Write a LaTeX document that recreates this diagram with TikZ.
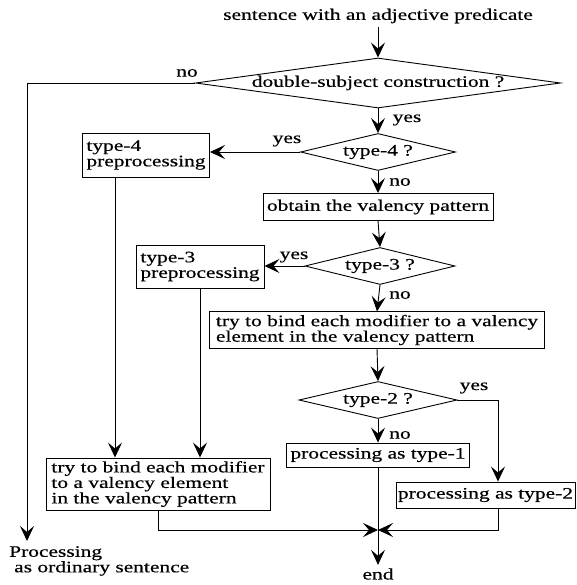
\documentclass[tikz,border=0pt]{standalone}
\usepackage{fontspec}
\setmainfont{Liberation Serif}[FakeStretch=1.34,FakeBold=0.5]
\usetikzlibrary{arrows.meta,shapes.geometric}

\tikzset{
  every node/.style={font=\fontsize{16}{15.5}\selectfont},
  box/.style={draw, line width=0.9pt, inner xsep=4pt, inner ysep=3pt, align=left},
  test/.style={draw, diamond, line width=0.9pt, inner sep=0pt},
  flow/.style={line width=0.9pt},
  arr/.style={flow, -{Stealth[length=15pt,width=14pt,inset=6pt]}},
  tag/.style={inner sep=1pt},
}

\begin{document}
\begin{tikzpicture}[x=1pt,y=-1pt]
\useasboundingbox (0,0) rectangle (576,585);

% main column
\node (title) at (378,16) {sentence with an adjective predicate};
\node[test, minimum width=365pt, minimum height=50pt,
      label=center:{double-subject construction ?}] (d1) at (378,83) {};
\node[test, minimum width=155pt, minimum height=37pt,
      label=center:{type-4 ?}] (d4) at (378,152) {};
\node[box, align=center, minimum width=228pt, minimum height=27pt] (obtain) at (378,207) {obtain the valency pattern};
\node[test, minimum width=150pt, minimum height=37pt,
      label=center:{type-3 ?}] (d3) at (380,266) {};
\node[box, minimum width=335pt, minimum height=36pt] (bind) at (377,330)
  {try to bind each modifier to a valency\\element in the valency pattern};
\node[test, minimum width=158pt, minimum height=37pt,
      label=center:{type-2 ?}] (d2) at (378,400) {};
\node[box, align=center, minimum width=183pt, minimum height=24pt] (t1) at (378,455) {processing as type-1};
\node[box, align=center, inner xsep=2pt, minimum width=176pt, minimum height=26pt] (t2) at (485.5,495) {processing as type-2};
\node (finish) at (378,574) {end};

% left branches
\node[box, inner ysep=5pt, minimum width=126pt, minimum height=44pt] (t4) at (146,155) {type-4\\preprocessing};
\node[box, inner ysep=5pt, minimum width=128pt, minimum height=43pt] (t3) at (200,266.5) {type-3\\preprocessing};
\node[box, minimum width=224pt, minimum height=52pt] (bl) at (158,484)
  {try to bind each modifier\\to a valency element\\in the valency pattern};
\node[anchor=north west, align=left, inner sep=0pt] (ord) at (9,546)
  {Processing\\\hspace{5pt}as ordinary sentence};

% branch labels
\node[tag] (no1) at (187,73) {no};
\node[tag] (yes1) at (407,120) {yes};
\node[tag] (yes4) at (287,141) {yes};
\node[tag] (no4) at (400,182) {no};
\node[tag] (yes3) at (294,257) {yes};
\node[tag] (no3) at (400,295) {no};
\node[tag] (yes2) at (474,388) {yes};
\node[tag] (no2) at (400,435) {no};

% routing points
\coordinate (merge) at (378,530);
\coordinate (drop) at (27,541);
\coordinate (lane4) at (115,0);
\coordinate (lane2) at (498,0);

% connectors
\draw[arr] (title) -- (d1.north);
\draw[arr] (d1.south) -- (d4.north);
\draw[arr] (d4.south) -- (obtain.north);
\draw[arr] (obtain.south) -- (d3.north);
\draw[arr] (d3.south) -- (bind.north);
\draw[arr] (bind.south) -- (d2.north);
\draw[arr] (d2.south) -- (t1.north);
\draw[arr] (d4.west) -- (d4.west -| t4.east);
\draw[arr] (d3.west) -- (d3.west -| t3.east);
\draw[arr] (d1.west) -| (drop);
\draw[arr] (t4.south -| lane4) -- (lane4 |- bl.north);
\draw[arr] (t3.south) -- (t3.south |- bl.north);
\draw[arr] (d2.east) -| (lane2 |- t2.north);
\draw[arr] (lane2 |- t2.south) |- (merge);
\draw[arr] (bl.south) |- (merge);
\draw[arr] (t1.south) -- (finish.north);
\end{tikzpicture}
\end{document}
